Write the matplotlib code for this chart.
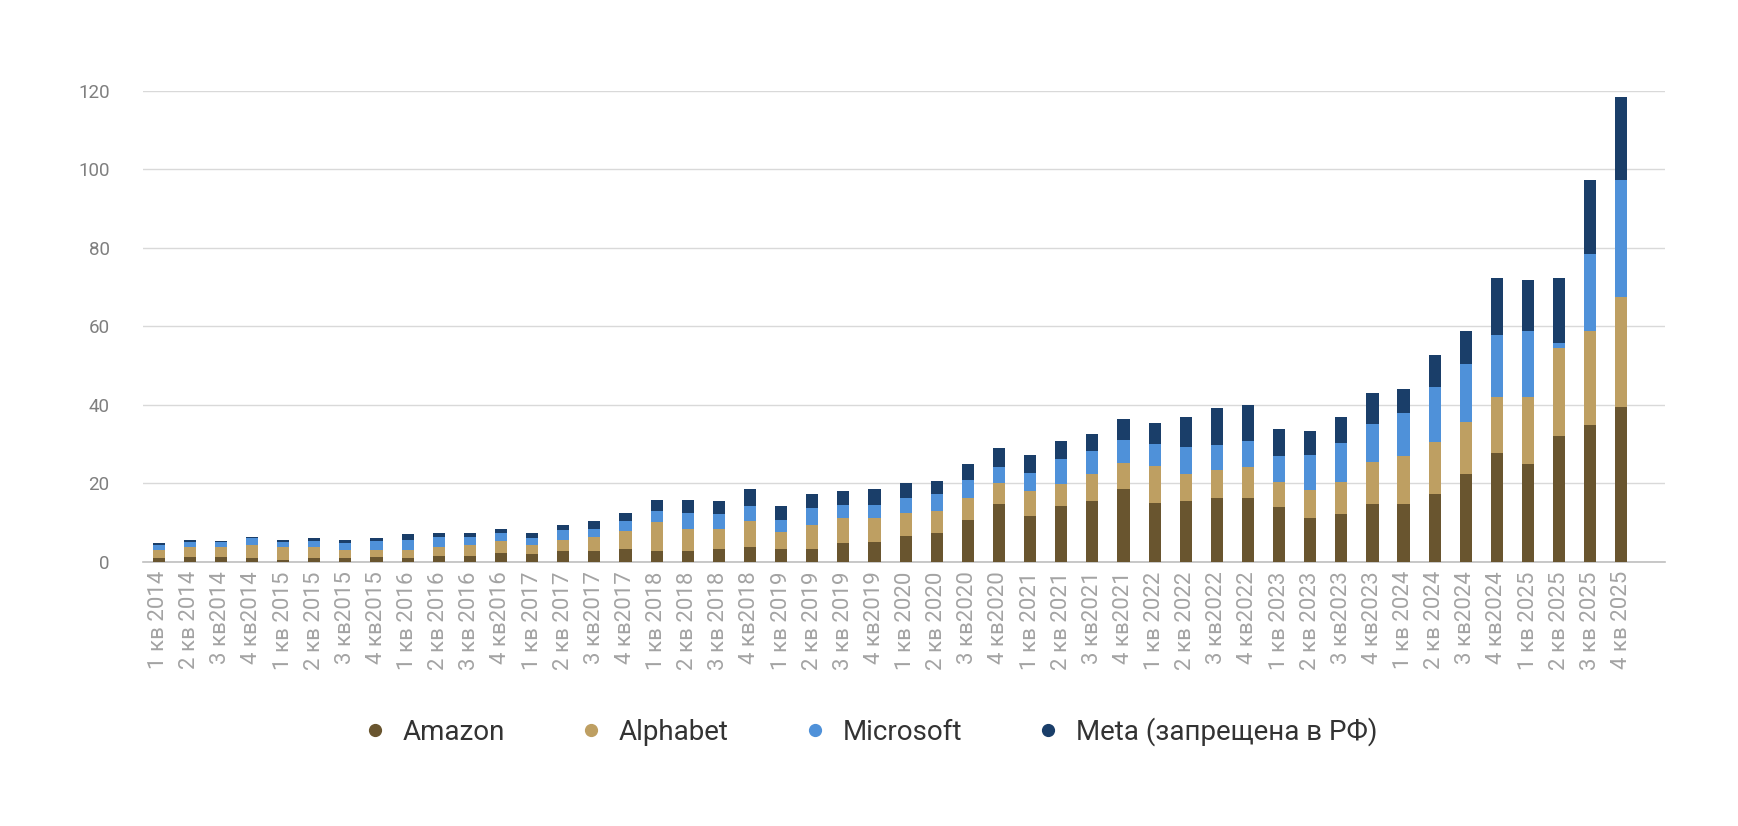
import matplotlib
matplotlib.use("Agg")
import matplotlib.pyplot as plt
from matplotlib.lines import Line2D
import numpy as np

plt.rcParams['font.family'] = ['Roboto', 'DejaVu Sans']

quarters = [
    "1 кв 2014", "2 кв 2014", "3 кв2014", "4 кв2014",
    "1 кв 2015", "2 кв 2015", "3 кв2015", "4 кв2015",
    "1 кв 2016", "2 кв 2016", "3 кв 2016", "4 кв2016",
    "1 кв 2017", "2 кв 2017", "3 кв2017", "4 кв2017",
    "1 кв 2018", "2 кв 2018", "3 кв 2018", "4 кв2018",
    "1 кв 2019", "2 кв 2019", "3 кв 2019", "4 кв2019",
    "1 кв 2020", "2 кв 2020", "3 кв2020", "4 кв2020",
    "1 кв 2021", "2 кв 2021", "3 кв2021", "4 кв2021",
    "1 кв 2022", "2 кв 2022", "3 кв2022", "4 кв2022",
    "1 кв 2023", "2 кв 2023", "3 кв2023", "4 кв2023",
    "1 кв 2024", "2 кв 2024", "3 кв2024", "4 кв2024",
    "1 кв 2025", "2 кв 2025", "3 кв 2025", "4 кв 2025",
]

amazon = [0.85, 1.1, 1.1, 0.8, 0.5, 0.8, 0.8, 1.1, 0.8, 1.5, 1.5, 2.2,
          1.8, 2.8, 2.8, 3.2, 2.8, 2.8, 3.2, 3.6, 3.2, 3.2, 4.7, 4.9,
          6.6, 7.3, 10.7, 14.6, 11.7, 14.1, 15.5, 18.6, 14.9, 15.5, 16.3, 16.3,
          13.9, 11.2, 12.2, 14.6, 14.6, 17.3, 22.4, 27.6, 24.9, 32.1, 34.9, 39.3]

alphabet = [2.2, 2.6, 2.5, 3.5, 3.1, 2.8, 2.2, 1.9, 2.2, 2.1, 2.8, 3.1,
            2.5, 2.8, 3.5, 4.5, 7.2, 5.5, 5.1, 6.8, 4.3, 6.0, 6.3, 6.1,
            5.7, 5.5, 5.6, 5.4, 6.2, 5.6, 6.9, 6.4, 9.4, 6.9, 7.0, 7.8,
            6.4, 7.1, 8.1, 10.9, 12.2, 13.3, 13.1, 14.3, 17.0, 22.4, 23.8, 28.2]

microsoft = [1.1, 1.2, 1.3, 1.7, 1.3, 1.7, 1.6, 2.3, 2.6, 2.7, 2.0, 2.0,
             1.7, 2.4, 2.0, 2.7, 3.0, 4.2, 3.9, 3.7, 3.0, 4.4, 3.5, 3.5,
             4.0, 4.4, 4.6, 4.1, 4.8, 6.5, 5.8, 5.9, 5.6, 6.9, 6.3, 6.6,
             6.5, 8.9, 10.0, 9.6, 11.0, 13.8, 15.0, 16.0, 17.0, 1.2, 19.8, 29.7]

meta = [0.5, 0.7, 0.4, 0.3, 0.7, 0.7, 1.0, 0.7, 1.4, 1.0, 1.0, 1.0,
        1.3, 1.4, 2.1, 2.0, 2.8, 3.3, 3.3, 4.5, 3.6, 3.6, 3.4, 4.1,
        3.6, 3.4, 3.9, 4.8, 4.5, 4.5, 4.2, 5.5, 5.5, 7.5, 9.6, 9.1,
        6.9, 6.2, 6.5, 7.9, 6.1, 8.2, 8.2, 14.3, 12.9, 16.5, 18.7, 21.3]

series_names = ["Amazon", "Alphabet", "Microsoft", "Meta (запрещена в РФ)"]
series_values = [amazon, alphabet, microsoft, meta]
colors = ["#69552F", "#BE9F62", "#4F91D9", "#1A3E69"]
yticks = [0, 20, 40, 60, 80, 100, 120]

fig = plt.figure(figsize=(17.38, 8.26), dpi=100)
ax = fig.add_axes([0.0823, 0.3202, 0.8757, 0.5696])

x = np.arange(len(quarters))
bottom = np.zeros(len(quarters))
handles = []
for name, vals, col in zip(series_names, series_values, colors):
    v = np.array(vals)
    ax.bar(x, v, width=0.39, bottom=bottom, color=col, zorder=3, linewidth=0)
    bottom += v
    handles.append(Line2D([0], [0], marker='o', linestyle='none',
                          markerfacecolor=col, markeredgecolor=col,
                          markersize=8.5, label=name))

ax.set_xlim(-0.5, 48.4)
ax.set_ylim(0, 120)
ax.set_yticks(yticks)
ax.set_yticklabels([str(t) for t in yticks])
ax.yaxis.grid(True, color="#D9D9D9", linewidth=1.0, zorder=0)
ax.set_axisbelow(True)
for s in ["top", "right", "left"]:
    ax.spines[s].set_visible(False)
ax.spines["bottom"].set_color("#BFBFBF")
ax.spines["bottom"].set_linewidth(1.2)
ax.tick_params(axis='y', length=0, pad=24, labelsize=13.5, labelcolor="#7F7F7F")
ax.set_xticks(x)
ax.set_xticklabels(quarters, rotation=90, fontsize=16, color="#A3A3A3")
ax.tick_params(axis='x', length=0, pad=7)

fig.legend(handles=handles, loc='center', bbox_to_anchor=(0.5, 1 - 732 / 826),
           ncol=4, frameon=False, fontsize=20, handlelength=1.0,
           handletextpad=0.5, columnspacing=2.6, labelcolor="#333333")

fig.savefig("out.png", dpi=100, facecolor="white")
